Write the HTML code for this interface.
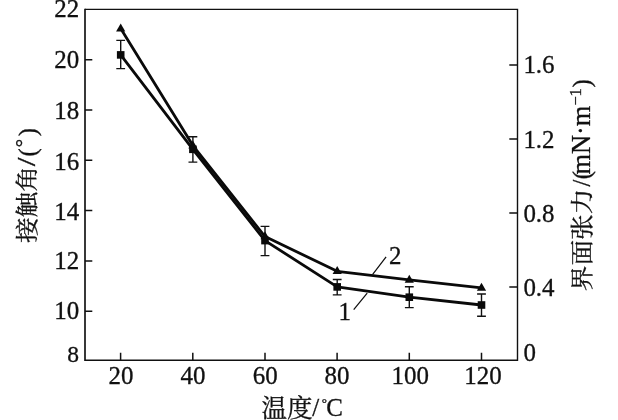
<!DOCTYPE html>
<html><head><meta charset="utf-8"><title>chart</title>
<style>html,body{margin:0;padding:0;background:#fff}svg{display:block}text{font-family:"Liberation Serif","Noto Serif CJK SC",serif;fill:#111;stroke:#111;stroke-width:0.3px}.n{font-family:"Liberation Serif","Noto Serif CJK SC",serif;font-size:24px}.c{font-family:"Noto Serif CJK SC","Liberation Serif",serif;font-size:23.3px}</style></head><body>
<svg width="618" height="420" viewBox="0 0 618 420">
<rect width="618" height="420" fill="#fff"/>
<path d="M85.0 8.7V361.0" stroke="#2e2e2e" stroke-width="1.9" fill="none"/>
<path d="M85.0 9.4H517.5V360.3H85.0" stroke="#111" stroke-width="1.4" fill="none" stroke-linejoin="miter"/>
<path d="M85.0 59.7h7.3 M85.0 110.0h7.3 M85.0 160.3h7.3 M85.0 210.6h7.3 M85.0 260.9h7.3 M85.0 311.2h7.3 M120.6 360.3v-7.6 M192.8 360.3v-7.6 M265.0 360.3v-7.6 M337.1 360.3v-7.6 M409.3 360.3v-7.6 M481.5 360.3v-7.6 M517.5 286.9h-8.2 M517.5 212.9h-8.2 M517.5 138.9h-8.2 M517.5 64.9h-8.2" stroke="#111" stroke-width="1.5" fill="none"/>
<text class="n" transform="translate(79.3 16.9) scale(1.04 1.06)" text-anchor="end">22</text>
<text class="n" transform="translate(79.3 67.6) scale(1.04 1.06)" text-anchor="end">20</text>
<text class="n" transform="translate(79.3 118.8) scale(1.04 1.06)" text-anchor="end">18</text>
<text class="n" transform="translate(79.3 170.1) scale(1.04 1.06)" text-anchor="end">16</text>
<text class="n" transform="translate(79.3 220.1) scale(1.04 1.06)" text-anchor="end">14</text>
<text class="n" transform="translate(79.3 268.8) scale(1.04 1.06)" text-anchor="end">12</text>
<text class="n" transform="translate(79.3 319.1) scale(1.04 1.06)" text-anchor="end">10</text>
<text class="n" transform="translate(79.0 362.3) scale(1.04 1.06)" text-anchor="end" style="font-size:22.6px">8</text>
<text class="n" transform="translate(120.9 384.0) scale(1.04 1.06)" text-anchor="middle">20</text>
<text class="n" transform="translate(193.0 384.0) scale(1.04 1.06)" text-anchor="middle">40</text>
<text class="n" transform="translate(265.3 384.0) scale(1.04 1.06)" text-anchor="middle">60</text>
<text class="n" transform="translate(337.0 384.0) scale(1.04 1.06)" text-anchor="middle">80</text>
<text class="n" transform="translate(410.3 384.0) scale(1.04 1.06)" text-anchor="middle">100</text>
<text class="n" transform="translate(483.0 384.0) scale(1.04 1.06)" text-anchor="middle">120</text>
<text class="n" transform="translate(523.4 296.2) scale(1.04 1.06)">0.4</text>
<text class="n" transform="translate(523.4 221.8) scale(1.04 1.06)">0.8</text>
<text class="n" transform="translate(523.4 147.6) scale(1.04 1.06)">1.2</text>
<text class="n" transform="translate(523.4 72.7) scale(1.04 1.06)">1.6</text>
<text class="n" transform="translate(523.4 360.9) scale(1.04 1.06)">0</text>
<path d="M120.7 40.4V68.6M116.3 40.4h8.8M116.3 68.6h8.8 M192.9 136.8V162.1M188.5 136.8h8.8M188.5 162.1h8.8 M265.0 226.4V255.6M260.6 226.4h8.8M260.6 255.6h8.8 M337.2 279.5V294.9M332.8 279.5h8.8M332.8 294.9h8.8 M409.3 286.8V307.6M404.9 286.8h8.8M404.9 307.6h8.8 M481.5 294.0V316.3M477.1 294.0h8.8M477.1 316.3h8.8" stroke="#111" stroke-width="1.4" fill="none"/>
<polyline points="120.7,28.6 192.9,145.6 265.0,236.5 337.2,271.3 409.3,279.9 481.5,287.9" fill="none" stroke="#0a0a0a" stroke-width="2.8" stroke-linejoin="round"/>
<polyline points="120.7,54.9 192.9,149.3 265.0,240.6 337.2,286.9 409.3,297.2 481.5,305.0" fill="none" stroke="#0a0a0a" stroke-width="2.8" stroke-linejoin="round"/>
<path d="M120.7 23.4L125.3 31.4H116.1Z" fill="#0a0a0a"/>
<path d="M192.9 140.4L197.5 148.4H188.3Z" fill="#0a0a0a"/>
<path d="M265.0 231.3L269.6 239.3H260.4Z" fill="#0a0a0a"/>
<path d="M337.2 266.1L341.8 274.1H332.6Z" fill="#0a0a0a"/>
<path d="M409.3 274.7L413.9 282.7H404.7Z" fill="#0a0a0a"/>
<path d="M481.5 282.7L486.1 290.7H476.9Z" fill="#0a0a0a"/>
<rect x="116.9" y="51.1" width="7.6" height="7.6" fill="#0a0a0a"/>
<rect x="189.1" y="145.5" width="7.6" height="7.6" fill="#0a0a0a"/>
<rect x="261.2" y="236.8" width="7.6" height="7.6" fill="#0a0a0a"/>
<rect x="333.4" y="283.1" width="7.6" height="7.6" fill="#0a0a0a"/>
<rect x="405.5" y="293.4" width="7.6" height="7.6" fill="#0a0a0a"/>
<rect x="477.7" y="301.2" width="7.6" height="7.6" fill="#0a0a0a"/>
<path d="M386.1 256.8L372.5 274.7M367.2 293.1L353.7 309.7" stroke="#111" stroke-width="1.25" fill="none"/>
<text class="n" transform="translate(389.0 263.6) scale(1.04 1.06)">2</text>
<text class="n" transform="translate(338.5 319.5) scale(1.04 1.06)">1</text>
<text class="c" transform="translate(35.3 243.0) scale(1 1.1) rotate(-90)">接触角</text>
<text class="n" style="font-size:26px" transform="translate(35.3 166.2) scale(1 1.2) rotate(-90)">/</text>
<text class="n" style="font-size:24.6px" transform="translate(35.6 156.4) scale(1 1) rotate(-90)">(</text>
<text class="n" style="font-size:21px" transform="translate(30.2 147.2) scale(1 1) rotate(-90)">°</text>
<text class="n" style="font-size:24.6px" transform="translate(35.6 136.2) scale(1 1) rotate(-90)">)</text>
<text class="c" transform="translate(590.2 291.2) scale(1 1.1) rotate(-90)">界面张力</text>
<text class="n" style="font-size:26px" transform="translate(589.5 186.6) scale(1 0.95) rotate(-90)">/</text>
<text class="n" style="font-size:24.6px" transform="translate(589.6 179.3) scale(1 1) rotate(-90)">(</text>
<text class="n" style="font-size:26.4px" transform="translate(590.1 174.5) scale(1 1) rotate(-90)">mN·m</text>
<text class="n" style="font-size:16.5px" transform="translate(580.8 105.6) scale(1 1) rotate(-90)">−</text>
<text class="n" style="font-size:16.5px" transform="translate(580.8 96.6) scale(1 1) rotate(-90)">1</text>
<text class="n" style="font-size:24.6px" transform="translate(589.6 87.5) scale(1 1) rotate(-90)">)</text>
<text class="c" style="font-size:25.5px" x="261.5" y="417">温度</text>
<text class="n" transform="translate(312.2 416.0) scale(1.04 1.06)">/</text>
<text class="n" style="font-size:13px" x="321.8" y="406.8">°</text>
<text class="n" transform="translate(326.3 416.0) scale(1.04 1.06)">C</text>
</svg></body></html>
